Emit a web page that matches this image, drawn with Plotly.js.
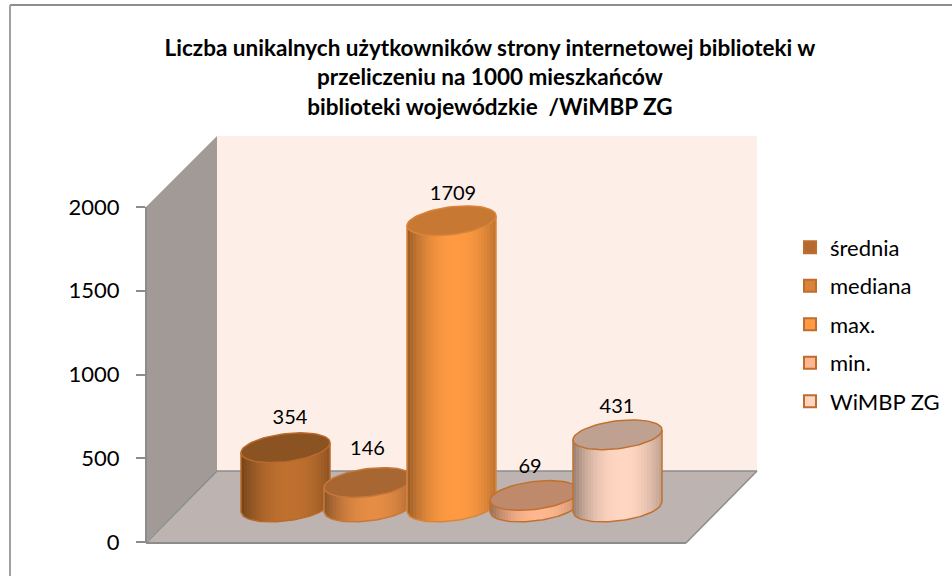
<!DOCTYPE html>
<html><head><meta charset="utf-8">
<script src="https://cdn.plot.ly/plotly-3.0.1.min.js"></script>
<style>html,body{margin:0;padding:0;background:#fff}#c{width:952px;height:576px}</style>
</head><body><div id="c"></div>
<script>
const seriesNames = ['średnia', 'mediana', 'max.', 'min.', 'WiMBP ZG'];
const seriesValues = [354, 146, 1709, 69, 431];
const axisTicks = [0, 500, 1000, 1500, 2000];
const titleLines = ['Liczba unikalnych użytkowników strony internetowej biblioteki w',
                    'przeliczeniu na 1000 mieszkańców',
                    'biblioteki wojewódzkie  /WiMBP ZG'];

// ---- styling and layout ----
const W = 952, H = 576;
const plot = {l: 146, r: 757, t: 136, b: 542};
const seriesColors = [[191,112,47],[229,140,69],[255,154,66],[255,183,143],[255,214,194]];
const swatchColors = ['#B5692F','#D98238','#FF9A42','#FFB78F','#FFD5C2'];
const capFactor = [0.73,0.73,0.78,0.75,0.75];
const edgeColors = ['#B86A2C','#C8773A','#D8853A','#C0712F','#C0712F'];
const swatchEdge = '#BE6D2E';
const labelNudgeX = [4.5,-1,1.5,-4.5,-0.5];
const labelRise = [29,33,25.5,27.5,27];
const pxPerUnit = 0.1675, basePx = 507, firstCx = 285.5, stepPx = 83, radiusPx = 44.5;
const a = radiusPx / stepPx, b = 14 / pxPerUnit, s = 5 / pxPerUnit;
const STRIPS = 30;
const px = x => (x - plot.l) / (plot.r - plot.l);
const py = y => (plot.b - y) / (plot.b - plot.t);
const mul = (c, f) => `rgb(${c.map(v => Math.round(v * f)).join(',')})`;
const shade = u => 1 - 0.40 * Math.pow(Math.abs(u - 0.55) / 0.55, 2.2);
const low = c => s * c - b * Math.sqrt(Math.max(0, 1 - c * c));

const traces = [];
// empty carrier for the visible value axis
traces.push({type:'scatter', x:[0,0], y:[0,2000], xaxis:'x', yaxis:'y', mode:'none', showlegend:false, hoverinfo:'skip'});
// real bars: one per series, hidden inside the cylinders, giving the legend entries
seriesNames.forEach((n, i) => traces.push({type:'bar', name:n, legendgroup:n, x:[i], y:[seriesValues[i]],
  xaxis:'x', yaxis:'y2', width:0.6, marker:{color:swatchColors[i], line:{color:swatchEdge, width:2}}, hoverinfo:'skip'}));
// cylinders, left to right
seriesValues.forEach((v, i) => {
  const col = seriesColors[i];
  for (let k = 0; k < STRIPS; k++) {
    const c0 = -1 + 2 * k / STRIPS, c1 = Math.min(1, -1 + 2 * (k + 1.5) / STRIPS);
    traces.push({type:'scatter', mode:'none', fill:'toself', fillcolor:mul(col, shade((k + 0.5) / STRIPS)),
      x:[i + a*c0, i + a*c1, i + a*c1, i + a*c0, i + a*c0],
      y:[v + low(c0), v + low(c1), low(c1), low(c0), v + low(c0)],
      xaxis:'x', yaxis:'y2', showlegend:false, hoverinfo:'skip'});
  }
  const ox = [], oy = [];
  for (let k = 0; k <= 40; k++) { const c = -1 + 2 * k / 40; ox.push(i + a*c); oy.push(low(c)); }
  ox.unshift(i - a); oy.unshift(v + low(-1)); ox.push(i + a); oy.push(v + low(1));
  traces.push({type:'scatter', mode:'lines', x:ox, y:oy, line:{color:edgeColors[i], width:1.5}, xaxis:'x', yaxis:'y2', showlegend:false, hoverinfo:'skip'});
  const cx = [], cy = [];
  for (let k = 0; k <= 72; k++) { const t = 2 * Math.PI * k / 72; cx.push(i + a*Math.cos(t)); cy.push(v + s*Math.cos(t) + b*Math.sin(t)); }
  traces.push({type:'scatter', mode:'lines', fill:'toself', fillcolor:mul(col, capFactor[i]), x:cx, y:cy,
    line:{color:edgeColors[i], width:1.5}, xaxis:'x', yaxis:'y2', showlegend:false, hoverinfo:'skip'});
});
// value labels
traces.push({type:'scatter', mode:'text', x:seriesValues.map((v, i) => i + labelNudgeX[i] / stepPx),
  y:seriesValues.map((v, i) => v + labelRise[i] / pxPerUnit), text:seriesValues.map(String),
  textposition:'middle center', textfont:{family:'Lato, sans-serif', size:20, color:'#000'},
  xaxis:'x', yaxis:'y2', showlegend:false, hoverinfo:'skip', cliponaxis:false});

const gray = '#8C8C8C';
const poly = (pts, fill) => ({type:'path', xref:'paper', yref:'paper', layer:'below', fillcolor:fill, line:{width:0},
  path:'M' + pts.map(p => px(p[0]) + ',' + py(p[1])).join('L') + 'Z'});
const seg = (x0, y0, x1, y1, w, col) => ({type:'line', xref:'paper', yref:'paper', layer:'below',
  x0:px(x0), y0:py(y0), x1:px(x1), y1:py(y1), line:{color:col || gray, width:w}});
const shapes = [
  seg(10,5,W,5,2,'#8E8E8E'), seg(10,5,10,H,2,'#A0A0A0'),
  poly([[217,136],[757,136],[757,471],[217,471]], '#FDEFE8'),
  poly([[146,207],[217,136],[217,471],[146,542]], '#A29A96'),
  poly([[146,543],[217,471],[757,471],[686,543]], '#BDB4B1'),
  seg(217,471,757,471,1.5), seg(757,471,686,543,1.5), seg(217,471,146,543,1.5),
  seg(146,543,686,543,2), seg(146,207,146,543,2)
];

const layout = {
  width:W, height:H, paper_bgcolor:'#fff', plot_bgcolor:'rgba(0,0,0,0)',
  margin:{l:plot.l, r:W-plot.r, t:plot.t, b:H-plot.b, pad:0, autoexpand:false},
  barmode:'overlay', hovermode:false, shapes,
  font:{family:'Lato, sans-serif', color:'#000'},
  title:{text:titleLines.join('<br>'),
    font:{family:'Lato, sans-serif', size:22.5, color:'#000', weight:700},
    x:490/W, xanchor:'center', y:1-56/H, yanchor:'middle', xref:'container', yref:'container', automargin:false},
  xaxis:{visible:false, range:[(plot.l-firstCx)/stepPx, (plot.r-firstCx)/stepPx], fixedrange:true},
  yaxis:{domain:[0, (plot.b-207)/(plot.b-plot.t)], range:[0,2000], tickmode:'array', tickvals:axisTicks,
    ticktext:axisTicks.map(String), ticks:'outside', ticklen:9, tickwidth:2, tickcolor:gray, showline:false,
    showgrid:false, zeroline:false, tickfont:{family:'Lato, sans-serif', size:22, color:'#000'},
    ticklabelstandoff:12, fixedrange:true},
  yaxis2:{visible:false, domain:[0,1], anchor:'x',
    range:[basePx-plot.b, basePx-plot.t].map(d => d/pxPerUnit), fixedrange:true},
  legend:{x:px(790), xanchor:'left', y:py(226.5), yanchor:'top', traceorder:'grouped', tracegroupgap:6.9,
    font:{family:'Lato, sans-serif', size:22, color:'#000'}, bgcolor:'rgba(0,0,0,0)', borderwidth:0},
  showlegend:true
};
Plotly.newPlot('c', traces, layout, {displayModeBar:false, staticPlot:true});
</script></body></html>
